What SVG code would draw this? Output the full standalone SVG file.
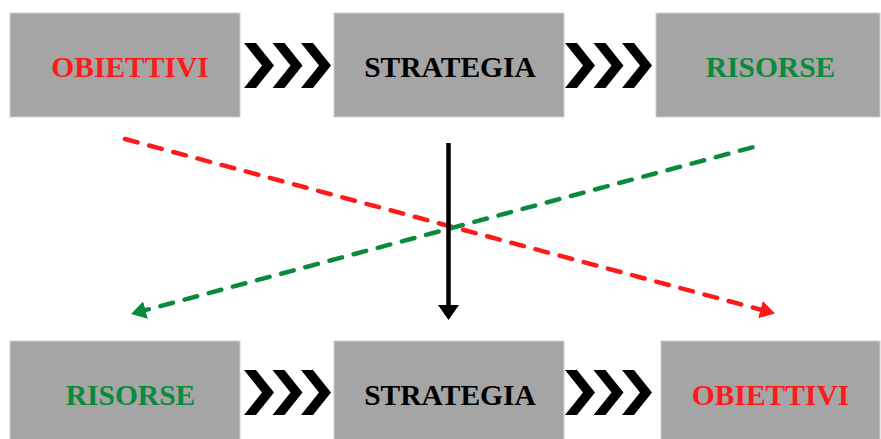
<svg xmlns="http://www.w3.org/2000/svg" xmlns:xlink="http://www.w3.org/1999/xlink" width="881" height="439" viewBox="0 0 881 439">
  <style>
    .box { fill: #a5a5a5; stroke: #cfcfcf; stroke-width: 1; }
    .lbl { font-family: "Liberation Serif", "Times New Roman", serif; font-weight: bold; font-size: 29.5px; text-anchor: middle; }
    .red { fill: #ff1a1a; }
    .green { fill: #0a8a3c; }
    .black { fill: #000000; }
    .dash { fill: none; stroke-width: 4.5; stroke-dasharray: 13 12; stroke-linecap: round; }
  </style>
  <defs>
    <path id="chev" d="M0,-22.5 L12,-22.5 L30,0 L12,22.5 L0,22.5 L18,0 Z" fill="#000"/>
    <g id="chevs">
      <use xlink:href="#chev" x="0"/>
      <use xlink:href="#chev" x="28.5"/>
      <use xlink:href="#chev" x="57"/>
    </g>
    <marker id="arrRed" markerUnits="userSpaceOnUse" viewBox="0 0 15 18" markerWidth="15" markerHeight="18" refX="2" refY="9" orient="auto">
      <path d="M0,0 L15,9 L0,18 Z" fill="#ff1a1a"/>
    </marker>
    <marker id="arrGreen" markerUnits="userSpaceOnUse" viewBox="0 0 15 18" markerWidth="15" markerHeight="18" refX="2" refY="9" orient="auto">
      <path d="M0,0 L15,9 L0,18 Z" fill="#0a8a3c"/>
    </marker>
    <marker id="arrBlack" markerUnits="userSpaceOnUse" viewBox="0 0 15 21" markerWidth="15" markerHeight="21" refX="2" refY="10.5" orient="auto">
      <path d="M0,0 L15,10.5 L0,21 Z" fill="#000"/>
    </marker>
  </defs>

  <g id="top-obiettivi">
    <rect class="box" x="10" y="13" width="230" height="104"/>
    <text class="lbl red" x="130" y="77">OBIETTIVI</text>
  </g>
  <g id="top-strategia">
    <rect class="box" x="334" y="13" width="230" height="104"/>
    <text class="lbl black" x="450" y="77">STRATEGIA</text>
  </g>
  <g id="top-risorse">
    <rect class="box" x="656" y="13" width="224" height="104"/>
    <text class="lbl green" x="770.5" y="77">RISORSE</text>
  </g>

  <g id="bottom-risorse">
    <rect class="box" x="10" y="341" width="230" height="104"/>
    <text class="lbl green" x="130.5" y="405">RISORSE</text>
  </g>
  <g id="bottom-strategia">
    <rect class="box" x="334" y="341" width="230" height="104"/>
    <text class="lbl black" x="450" y="405">STRATEGIA</text>
  </g>
  <g id="bottom-obiettivi">
    <rect class="box" x="661" y="341" width="219" height="104"/>
    <text class="lbl red" x="770.5" y="405">OBIETTIVI</text>
  </g>

  <g id="connectors">
    <use xlink:href="#chevs" x="244" y="65.5"/>
    <use xlink:href="#chevs" x="565" y="65.5"/>
    <use xlink:href="#chevs" x="244" y="392.5"/>
    <use xlink:href="#chevs" x="565" y="392.5"/>
    <line class="dash" x1="125" y1="139" x2="762.4" y2="310.1" stroke="#ff1a1a" marker-end="url(#arrRed)"/>
    <line class="dash" x1="752.5" y1="147.3" x2="143.6" y2="310.6" stroke="#0a8a3c" marker-end="url(#arrGreen)"/>
    <line x1="448.5" y1="143" x2="448.5" y2="307" stroke="#000" stroke-width="4.5" marker-end="url(#arrBlack)"/>
  </g>
</svg>
